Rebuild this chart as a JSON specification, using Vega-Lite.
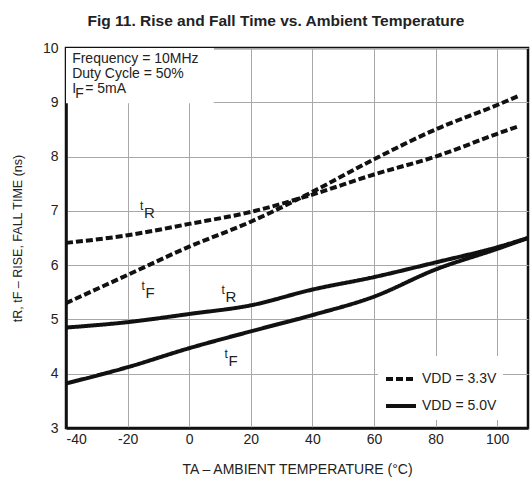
{
  "$schema": "https://vega.github.io/schema/vega-lite/v6.json",
  "width": 462,
  "height": 380,
  "autosize": {"type": "none"},
  "padding": {"left": 66, "top": 48, "right": 4, "bottom": 53},
  "background": "white",
  "config": {
    "font": "Liberation Sans",
    "view": {"stroke": "#111", "strokeWidth": 2.5},
    "axis": {
      "grid": true, "gridColor": "#a8a8a8", "gridWidth": 1,
      "domainColor": "#111", "domainWidth": 2.5,
      "tickSize": 0, "labelFontSize": 14, "labelColor": "#222",
      "titleFontWeight": "normal", "titleColor": "#222", "labelFont": "Liberation Sans", "titleFont": "Liberation Sans"
    }
  },
  "title": {
    "text": "Fig 11. Rise and Fall Time vs. Ambient Temperature",
    "fontSize": 15.5, "fontWeight": "bold", "color": "#222", "offset": 12, "dx": -21, "font": "Liberation Sans"
  },
  "datasets": {
    "curves": [
      {"temp": -40, "time": 6.41, "vdd": "VDD = 3.3V", "param": "tR"},
      {"temp": -20, "time": 6.55, "vdd": "VDD = 3.3V", "param": "tR"},
      {"temp": 0, "time": 6.76, "vdd": "VDD = 3.3V", "param": "tR"},
      {"temp": 20, "time": 6.98, "vdd": "VDD = 3.3V", "param": "tR"},
      {"temp": 40, "time": 7.3, "vdd": "VDD = 3.3V", "param": "tR"},
      {"temp": 60, "time": 7.67, "vdd": "VDD = 3.3V", "param": "tR"},
      {"temp": 80, "time": 8.0, "vdd": "VDD = 3.3V", "param": "tR"},
      {"temp": 100, "time": 8.42, "vdd": "VDD = 3.3V", "param": "tR"},
      {"temp": 107, "time": 8.56, "vdd": "VDD = 3.3V", "param": "tR"},
      {"temp": -40, "time": 5.3, "vdd": "VDD = 3.3V", "param": "tF"},
      {"temp": -20, "time": 5.82, "vdd": "VDD = 3.3V", "param": "tF"},
      {"temp": 0, "time": 6.34, "vdd": "VDD = 3.3V", "param": "tF"},
      {"temp": 20, "time": 6.8, "vdd": "VDD = 3.3V", "param": "tF"},
      {"temp": 40, "time": 7.35, "vdd": "VDD = 3.3V", "param": "tF"},
      {"temp": 60, "time": 7.95, "vdd": "VDD = 3.3V", "param": "tF"},
      {"temp": 80, "time": 8.5, "vdd": "VDD = 3.3V", "param": "tF"},
      {"temp": 100, "time": 8.95, "vdd": "VDD = 3.3V", "param": "tF"},
      {"temp": 107, "time": 9.12, "vdd": "VDD = 3.3V", "param": "tF"},
      {"temp": -40, "time": 4.85, "vdd": "VDD = 5.0V", "param": "tR"},
      {"temp": -20, "time": 4.95, "vdd": "VDD = 5.0V", "param": "tR"},
      {"temp": 0, "time": 5.1, "vdd": "VDD = 5.0V", "param": "tR"},
      {"temp": 20, "time": 5.26, "vdd": "VDD = 5.0V", "param": "tR"},
      {"temp": 40, "time": 5.55, "vdd": "VDD = 5.0V", "param": "tR"},
      {"temp": 60, "time": 5.78, "vdd": "VDD = 5.0V", "param": "tR"},
      {"temp": 80, "time": 6.05, "vdd": "VDD = 5.0V", "param": "tR"},
      {"temp": 100, "time": 6.33, "vdd": "VDD = 5.0V", "param": "tR"},
      {"temp": 110, "time": 6.5, "vdd": "VDD = 5.0V", "param": "tR"},
      {"temp": -40, "time": 3.82, "vdd": "VDD = 5.0V", "param": "tF"},
      {"temp": -20, "time": 4.12, "vdd": "VDD = 5.0V", "param": "tF"},
      {"temp": 0, "time": 4.47, "vdd": "VDD = 5.0V", "param": "tF"},
      {"temp": 20, "time": 4.78, "vdd": "VDD = 5.0V", "param": "tF"},
      {"temp": 40, "time": 5.08, "vdd": "VDD = 5.0V", "param": "tF"},
      {"temp": 60, "time": 5.42, "vdd": "VDD = 5.0V", "param": "tF"},
      {"temp": 80, "time": 5.92, "vdd": "VDD = 5.0V", "param": "tF"},
      {"temp": 100, "time": 6.3, "vdd": "VDD = 5.0V", "param": "tF"},
      {"temp": 110, "time": 6.5, "vdd": "VDD = 5.0V", "param": "tF"}
    ],
    "labels": [
      {"temp": -16, "time": 7.02, "sub": "R"},
      {"temp": -15.5, "time": 5.55, "sub": "F"},
      {"temp": 10.5, "time": 5.46, "sub": "R"},
      {"temp": 11.5, "time": 4.29, "sub": "F"}
    ],
    "one": [{"k": 1}]
  },
  "layer": [
    {
      "data": {"name": "one"},
      "mark": {"type": "rect", "fill": "white"},
      "encoding": {
        "x": {"datum": -40, "type": "quantitative", "scale": {"domain": [-40, 110], "nice": false}},
        "x2": {"datum": 8},
        "y": {"datum": 10, "type": "quantitative", "scale": {"domain": [3, 10], "nice": false}},
        "y2": {"datum": 8.98}
      }
    },
    {
      "data": {"name": "curves"},
      "mark": {"type": "line", "color": "#111", "strokeWidth": 4, "interpolate": "monotone"},
      "encoding": {
        "x": {
          "field": "temp", "type": "quantitative",
          "scale": {"domain": [-40, 110], "nice": false},
          "axis": {"values": [-40, -20, 0, 20, 40, 60, 80, 100], "labelExpr": "'' + datum.value", "title": "TA – AMBIENT TEMPERATURE (°C)", "titleFontSize": 14, "titlePadding": 16, "labelPadding": 4}
        },
        "y": {
          "field": "time", "type": "quantitative",
          "scale": {"domain": [3, 10], "nice": false},
          "axis": {"values": [3, 4, 5, 6, 7, 8, 9, 10], "labelExpr": "'' + datum.value", "title": "tR, tF – RISE, FALL TIME (ns)", "titleFontSize": 12.5, "titlePadding": 18, "labelPadding": 8}
        },
        "detail": {"field": "param"},
        "strokeDash": {
          "field": "vdd", "type": "nominal",
          "scale": {"domain": ["VDD = 3.3V", "VDD = 5.0V"], "range": [[7, 3], [1, 0]]},
          "legend": {
            "orient": "none", "legendX": 312, "legendY": 308, "title": null,
            "fillColor": "white", "padding": 6, "symbolType": "stroke", "symbolStrokeWidth": 4,
            "symbolStrokeColor": "#111", "symbolSize": 900, "labelFontSize": 14, "labelColor": "#222", "rowPadding": 2
          }
        }
      }
    },
    {
      "data": {"name": "labels"},
      "mark": {"type": "text", "text": "t", "fontSize": 12, "align": "left", "baseline": "alphabetic", "fill": "#222"},
      "encoding": {"x": {"field": "temp", "type": "quantitative"}, "y": {"field": "time", "type": "quantitative"}}
    },
    {
      "data": {"name": "labels"},
      "mark": {"type": "text", "fontSize": 15, "align": "left", "baseline": "alphabetic", "dx": 4, "dy": 8, "fill": "#222"},
      "encoding": {"x": {"field": "temp", "type": "quantitative"}, "y": {"field": "time", "type": "quantitative"}, "text": {"field": "sub"}}
    },
    {
      "data": {"name": "one"},
      "mark": {"type": "text", "text": ["Frequency = 10MHz", "Duty Cycle = 50%"], "fontSize": 14, "lineHeight": 15, "align": "left", "baseline": "alphabetic", "fill": "#222"},
      "encoding": {"x": {"datum": -38}, "y": {"datum": 9.72}}
    },
    {
      "data": {"name": "one"},
      "mark": {"type": "text", "text": "I", "fontSize": 14, "align": "left", "baseline": "alphabetic", "fill": "#222"},
      "encoding": {"x": {"datum": -38}, "y": {"datum": 9.17}}
    },
    {
      "data": {"name": "one"},
      "mark": {"type": "text", "text": "F", "fontSize": 14, "align": "left", "baseline": "alphabetic", "dx": 3, "dy": 5, "fill": "#222"},
      "encoding": {"x": {"datum": -38}, "y": {"datum": 9.17}}
    },
    {
      "data": {"name": "one"},
      "mark": {"type": "text", "text": "= 5mA", "fontSize": 14, "align": "left", "baseline": "alphabetic", "dx": 13, "fill": "#222"},
      "encoding": {"x": {"datum": -38}, "y": {"datum": 9.17}}
    }
  ]
}
